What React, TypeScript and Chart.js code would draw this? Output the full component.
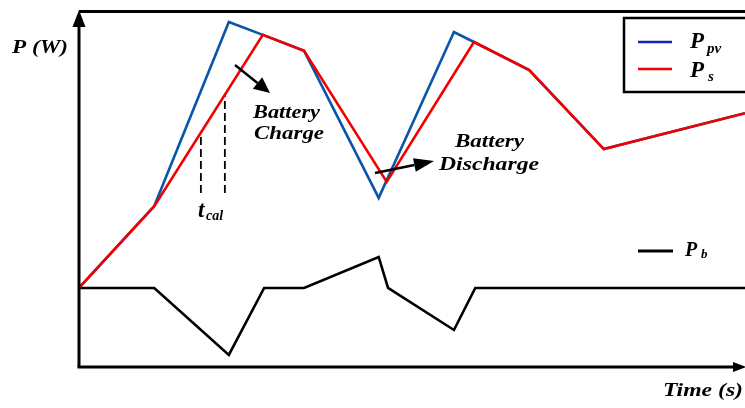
import React, { useEffect, useRef } from "react";
import { Chart, registerables } from "chart.js";
Chart.register(...registerables);

// ---- data (time in arbitrary units 0..100, power in arbitrary units 0..100) ----
const timePv = [0, 11.3, 22.5, 27.6, 33.8, 45.0, 56.3, 59.3, 67.6, 78.8, 100];
const powerPv = [22.2, 45.2, 96.9, 93.3, 88.8, 47.5, 94.1, 91.3, 83.4, 61.2, 71.3];
const timeS = [0, 11.3, 27.6, 33.8, 46.2, 59.3, 67.6, 78.8, 100];
const powerS = [22.2, 45.2, 93.3, 88.8, 52.0, 91.3, 83.4, 61.2, 71.3];
const timeB = [0, 11.3, 22.5, 27.8, 33.8, 45.0, 46.4, 56.3, 59.5, 100];
const powerB = [22.2, 22.2, 3.4, 22.2, 22.2, 30.9, 22.2, 10.4, 22.2, 22.2];
const tCalTimes = [18.3, 21.9];
const tCalTop = [65.9, 76.5];
const tCalBottom = 48.9;

const BLUE = "#0a56a8";
const RED = "#f20000";
const FONT = '"Liberation Serif", "DejaVu Serif", serif';

const pts = (xs: number[], ys: number[]) => xs.map((x, i) => ({ x, y: ys[i] }));

function fitText(ctx: CanvasRenderingContext2D, text: string, x: number, y: number, w: number, size: number) {
  ctx.save();
  ctx.font = `italic bold ${size}px ${FONT}`;
  const nat = ctx.measureText(text).width;
  ctx.translate(x, y);
  ctx.scale(w / nat, 1);
  ctx.textBaseline = "alphabetic";
  ctx.textAlign = "left";
  ctx.fillText(text, 0, 0);
  ctx.restore();
}

function plainText(ctx: CanvasRenderingContext2D, text: string, x: number, y: number, size: number) {
  ctx.font = `italic bold ${size}px ${FONT}`;
  ctx.textBaseline = "alphabetic";
  ctx.textAlign = "left";
  ctx.fillText(text, x, y);
}

function arrow(ctx: CanvasRenderingContext2D, x1: number, y1: number, x2: number, y2: number, headLen: number, headW: number, lw: number) {
  const a = Math.atan2(y2 - y1, x2 - x1);
  const bx = x2 - headLen * Math.cos(a);
  const by = y2 - headLen * Math.sin(a);
  ctx.beginPath();
  ctx.lineWidth = lw;
  ctx.moveTo(x1, y1);
  ctx.lineTo(bx, by);
  ctx.stroke();
  ctx.beginPath();
  ctx.moveTo(x2, y2);
  ctx.lineTo(bx + (headW / 2) * Math.sin(a), by - (headW / 2) * Math.cos(a));
  ctx.lineTo(bx - (headW / 2) * Math.sin(a), by + (headW / 2) * Math.cos(a));
  ctx.closePath();
  ctx.fill();
}

const decor = {
  id: "decor",
  afterDraw(chart: any) {
    const ctx: CanvasRenderingContext2D = chart.ctx;
    const { left, right, top, bottom } = chart.chartArea;
    ctx.save();
    ctx.strokeStyle = "#000";
    ctx.fillStyle = "#000";
    ctx.lineWidth = 3;
    ctx.lineCap = "butt";
    // top border
    ctx.beginPath();
    ctx.moveTo(left, top + 0.5);
    ctx.lineTo(right, top + 0.5);
    ctx.stroke();
    // left axis with arrow
    ctx.beginPath();
    ctx.moveTo(left, bottom);
    ctx.lineTo(left, top + 14);
    ctx.stroke();
    ctx.beginPath();
    ctx.moveTo(left, top - 1);
    ctx.lineTo(left - 6.5, top + 16);
    ctx.lineTo(left + 6.5, top + 16);
    ctx.closePath();
    ctx.fill();
    // bottom axis with arrow
    ctx.beginPath();
    ctx.moveTo(left - 1.5, bottom);
    ctx.lineTo(right - 10, bottom);
    ctx.stroke();
    ctx.beginPath();
    ctx.moveTo(right + 1, bottom);
    ctx.lineTo(right - 12, bottom - 5);
    ctx.lineTo(right - 12, bottom + 5);
    ctx.closePath();
    ctx.fill();

    // legend box
    ctx.lineWidth = 2.5;
    ctx.strokeRect(624, 18, 130, 74);
    ctx.lineWidth = 2.5;
    ctx.strokeStyle = "#1c22b0";
    ctx.beginPath();
    ctx.moveTo(638, 42);
    ctx.lineTo(672, 42);
    ctx.stroke();
    ctx.strokeStyle = RED;
    ctx.beginPath();
    ctx.moveTo(638, 69);
    ctx.lineTo(672, 69);
    ctx.stroke();
    ctx.strokeStyle = "#000";
    ctx.lineWidth = 3;
    ctx.beginPath();
    ctx.moveTo(638, 251);
    ctx.lineTo(673, 251);
    ctx.stroke();

    ctx.fillStyle = "#000";
    plainText(ctx, "P", 690, 48, 23);
    plainText(ctx, "pv", 707, 53, 15);
    plainText(ctx, "P", 690, 77, 23);
    plainText(ctx, "s", 708, 81, 15);
    plainText(ctx, "P", 685, 256, 20);
    plainText(ctx, "b", 701, 258, 13);

    // axis titles
    fitText(ctx, "P (W)", 12, 53, 56, 19);
    fitText(ctx, "Time (s)", 663, 396, 80, 19);

    // annotations
    fitText(ctx, "Battery", 253, 118, 67, 18);
    fitText(ctx, "Charge", 254, 139, 70, 18);
    fitText(ctx, "Battery", 455, 147, 69, 18);
    fitText(ctx, "Discharge", 439, 170, 100, 18);
    plainText(ctx, "t", 198, 217, 23);
    plainText(ctx, "cal", 206, 220, 14);

    ctx.fillStyle = "#000";
    ctx.strokeStyle = "#000";
    arrow(ctx, 235, 65, 270, 93, 16, 15, 2.5);
    arrow(ctx, 375, 173, 434, 161, 20, 14, 2.5);
    ctx.restore();
  },
};

export default function App() {
  const ref = useRef<HTMLCanvasElement>(null);
  useEffect(() => {
    const canvas = ref.current!;
    const dashed = tCalTimes.map((t, i) => ({
      data: [
        { x: t, y: tCalBottom },
        { x: t, y: tCalTop[i] },
      ],
      borderColor: "#000",
      borderWidth: 1.8,
      borderDash: [8, 4],
      pointRadius: 0,
      clip: false as any,
    }));
    const chart = new Chart(canvas, {
      type: "line",
      data: {
        datasets: [
          { label: "Ps", data: pts(timeS, powerS), borderColor: RED, borderWidth: 2.6, pointRadius: 0, tension: 0, clip: false as any },
          { label: "Ppv", data: pts(timePv, powerPv), borderColor: BLUE, borderWidth: 2.6, pointRadius: 0, tension: 0, clip: false as any },
          { label: "Pb", data: pts(timeB, powerB), borderColor: "#000", borderWidth: 2.6, pointRadius: 0, tension: 0, clip: false as any },
          ...dashed,
        ],
      },
      options: {
        responsive: false,
        animation: false,
        devicePixelRatio: 1,
        layout: { padding: { left: 79, top: 11, right: 0, bottom: 41 } },
        scales: {
          x: { type: "linear", min: 0, max: 100, display: false },
          y: { type: "linear", min: 0, max: 100, display: false },
        },
        plugins: { legend: { display: false }, tooltip: { enabled: false } },
        elements: { line: { borderJoinStyle: "miter", borderCapStyle: "butt" } },
      },
      plugins: [decor],
    });
    return () => chart.destroy();
  }, []);
  return (
    <div style={{ position: "absolute", left: 0, top: 0, width: 745, height: 408, background: "#fff" }}>
      <canvas ref={ref} width={745} height={408} style={{ display: "block" }} />
    </div>
  );
}
